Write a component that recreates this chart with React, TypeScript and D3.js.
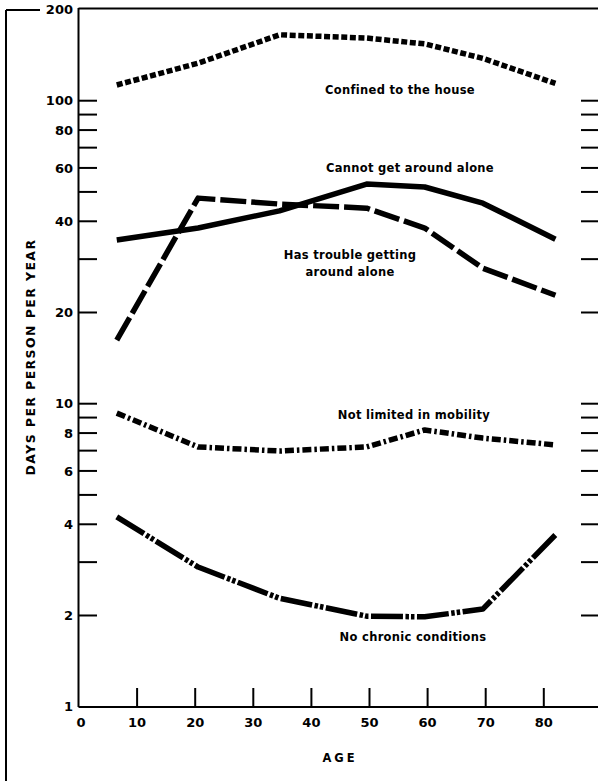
import React from "react";
import * as d3 from "d3";

const ages = [6.5, 20.5, 34.5, 49.5, 59.5, 69.5, 82];
const confined = [112.7, 133, 165, 161, 154, 138, 114];
const cannotAlone = [34.7, 38.0, 43.3, 53.1, 51.9, 45.9, 34.9];
const troubleAlone = [16.2, 47.7, 45.6, 44.2, 38.0, 28.0, 22.8];
const notLimited = [9.31, 7.2, 6.98, 7.2, 8.19, 7.7, 7.31];
const noChronic = [4.23, 2.89, 2.28, 1.99, 1.98, 2.1, 3.69];

const yTickValues = [2, 3, 4, 5, 6, 7, 8, 9, 10, 20, 30, 40, 50, 60, 70, 80, 90, 100];
const yLabelValues = [1, 2, 4, 6, 8, 10, 20, 40, 60, 80, 100, 200];
const xTickValues = [10, 20, 30, 40, 50, 60, 70, 80];
const xLabelValues = [0, 10, 20, 30, 40, 50, 60, 70, 80];

const W = 598;
const H = 781;
const axisX = 78.5;
const axisY = 707;

const x = d3.scaleLinear().domain([0, 90]).range([79, 79 + 58.1 * 9]);
const y = d3.scaleLog().domain([1, 200]).range([706.7, 9.5]);

const font = "'DejaVu Sans', Verdana, sans-serif";

type S = { name: string; values: number[]; dash: string; label: string[]; lx: number; ly: number };

const series: S[] = [
  { name: "confined", values: confined, dash: "6 2.6", label: ["Confined to the house"], lx: 400, ly: 94 },
  { name: "cannot", values: cannotAlone, dash: "", label: ["Cannot get around alone"], lx: 410, ly: 172 },
  { name: "trouble", values: troubleAlone, dash: "26 5", label: ["Has trouble getting", "around alone"], lx: 350, ly: 259 },
  { name: "notlim", values: notLimited, dash: "9 3 2.5 3", label: ["Not limited in mobility"], lx: 414, ly: 419 },
  { name: "nochron", values: noChronic, dash: "32 2.5 3.5 2 3.5 2.5", label: ["No chronic conditions"], lx: 413, ly: 641 },
];

export default function App() {
  const line = d3
    .line<number>()
    .x((_, i) => x(ages[i]))
    .y((v) => y(v));

  return (
    <svg
      width={W}
      height={H}
      style={{ position: "absolute", left: 0, top: 0, background: "#fff" }}
      fontFamily={font}
    >
      <rect x={0} y={0} width={W} height={H} fill="#fff" />
      {/* frame */}
      <line x1={6} y1={10} x2={6} y2={H} stroke="#000" strokeWidth={2} />
      <line x1={6} y1={10} x2={40} y2={10} stroke="#000" strokeWidth={2} />
      <line x1={axisX} y1={8.5} x2={W} y2={8.5} stroke="#000" strokeWidth={2} />
      {/* axes */}
      <line x1={axisX} y1={8} x2={axisX} y2={axisY} stroke="#000" strokeWidth={2} />
      <line x1={axisX} y1={axisY} x2={W} y2={axisY} stroke="#000" strokeWidth={2} />
      {/* y ticks left & right */}
      {yTickValues.map((v) => (
        <g key={"yt" + v}>
          <line x1={axisX} x2={97} y1={y(v)} y2={y(v)} stroke="#000" strokeWidth={2} />
          <line x1={581} x2={W} y1={y(v)} y2={y(v)} stroke="#000" strokeWidth={2} />
        </g>
      ))}
      {yLabelValues.map((v) => (
        <text
          key={"yl" + v}
          x={73}
          y={y(v)}
          dy="0.36em"
          textAnchor="end"
          fontSize={13}
          fontWeight="bold"
        >
          {v}
        </text>
      ))}
      {/* x ticks */}
      {xTickValues.map((v) => (
        <line key={"xt" + v} x1={x(v)} x2={x(v)} y1={688} y2={axisY} stroke="#000" strokeWidth={2} />
      ))}
      {xLabelValues.map((v) => (
        <text
          key={"xl" + v}
          x={v === 0 ? 81 : x(v)}
          y={722}
          dy="0.36em"
          textAnchor="middle"
          fontSize={13}
          fontWeight="bold"
        >
          {v}
        </text>
      ))}
      {/* axis titles */}
      <text x={340} y={758} dy="0.36em" textAnchor="middle" fontSize={11.5} fontWeight="bold" letterSpacing={3}>
        AGE
      </text>
      <text
        transform={`translate(30,357) rotate(-90)`}
        textAnchor="middle"
        dy="0.36em"
        fontSize={12.5}
        fontWeight="bold"
        letterSpacing={1.4}
      >
        DAYS PER PERSON PER YEAR
      </text>
      {/* lines */}
      {series.map((s) => (
        <path
          key={s.name}
          d={line(s.values) || ""}
          fill="none"
          stroke="#000"
          strokeWidth={5.5}
          strokeDasharray={s.dash || undefined}
          strokeLinejoin="round"
        />
      ))}
      {/* labels */}
      {series.map((s) =>
        s.label.map((t, i) => (
          <text
            key={s.name + i}
            x={s.lx}
            y={s.ly + i * 17}
            textAnchor="middle"
            fontSize={11.5}
            fontWeight="bold"
            letterSpacing={0.3}
          >
            {t}
          </text>
        ))
      )}
    </svg>
  );
}
